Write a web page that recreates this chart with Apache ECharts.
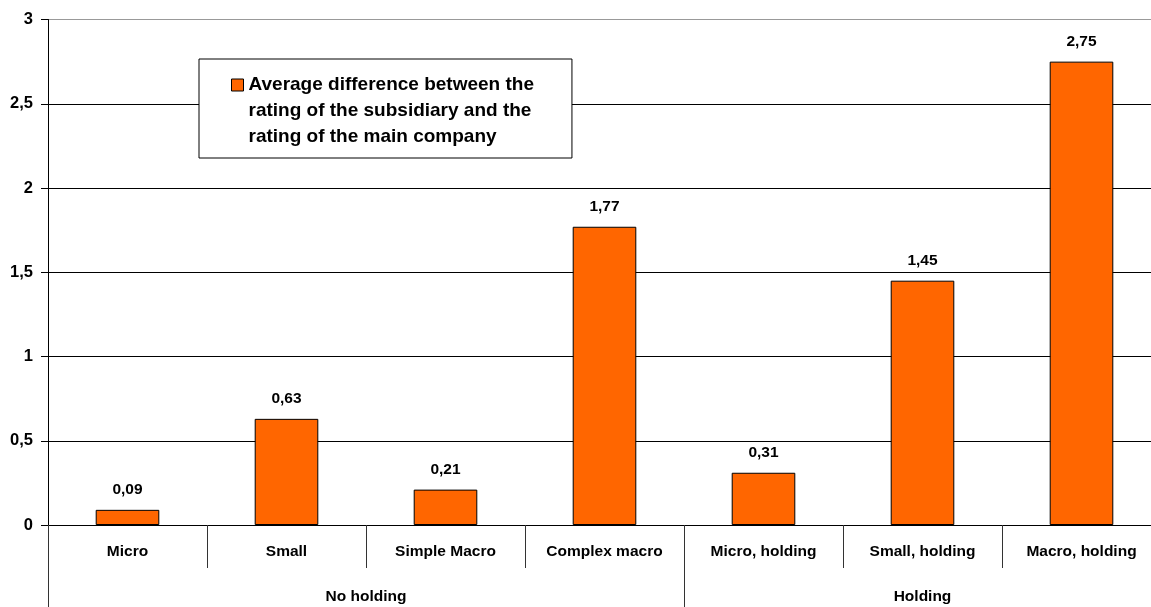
<!DOCTYPE html>
<html>
<head>
<meta charset="utf-8">
<script src="https://cdn.jsdelivr.net/npm/echarts@6/dist/echarts.min.js"></script>
<style>
  html, body { margin: 0; padding: 0; background: #fff; }
  #chart { width: 1151px; height: 607px; }
</style>
</head>
<body>
<div id="chart"></div>
<script>
// Categories (first level) and their groups (second level)
const categories = ['Micro', 'Small', 'Simple Macro', 'Complex macro', 'Micro, holding', 'Small, holding', 'Macro, holding'];
const groups = [
  { name: 'No holding', start: 0, end: 4 },
  { name: 'Holding', start: 4, end: 7 }
];
const seriesName = 'Average difference between the\nrating of the subsidiary and the\nrating of the main company';
const values = [0.09, 0.63, 0.21, 1.77, 0.31, 1.45, 2.75];
const yTicks = [0, 0.5, 1, 1.5, 2, 2.5, 3];

const FONT = '"Liberation Sans", Arial, sans-serif';
const comma = v => String(v).replace('.', ',');

// Boundaries between first-level categories (inner dividers) and group dividers
const groupEdges = [0].concat(groups.map(g => g.end)).filter(e => e < categories.length);
const innerEdges = [];
for (let i = 1; i < categories.length; i++) {
  if (groupEdges.indexOf(i) < 0) innerEdges.push(i);
}
const groupCenters = groups.map(g => (g.start + g.end) / 2);

// Legend marker: a square at the top of a tall box so it sits beside the first text line
const legendIcon = 'path://M0,0L12,0L12,12L0,12Z M0,64';

const chart = echarts.init(document.getElementById('chart'), null, { renderer: 'canvas' });

chart.setOption({
  animation: false,
  backgroundColor: '#fff',
  textStyle: { fontFamily: FONT },
  // the plot area runs slightly past the right edge of the canvas
  grid: { left: 48, width: 1113, top: 19.5, bottom: 82, containLabel: false, outerBoundsMode: 'none' },
  legend: {
    data: [{ name: seriesName, icon: legendIcon }],
    left: 199,
    top: 59,
    orient: 'vertical',
    padding: [13, 38, 8, 32],
    borderColor: '#000',
    borderWidth: 1,
    backgroundColor: '#fff',
    itemWidth: 12,
    itemHeight: 64,
    itemGap: 8,
    itemStyle: { color: '#FF6600', borderColor: '#000', borderWidth: 1 },
    textStyle: {
      fontFamily: FONT, fontWeight: 'bold', fontSize: 19, color: '#000',
      lineHeight: 26
    }
  },
  xAxis: [
    {
      type: 'category', data: categories,
      axisLine: { show: true, lineStyle: { color: '#000', width: 1 } },
      axisTick: { show: false },
      axisLabel: { interval: 0, margin: 19, color: '#000', fontFamily: FONT, fontWeight: 'bold', fontSize: 15.5 },
      splitLine: { show: false }
    },
    {
      // group dividers reaching to the bottom edge, with group names
      type: 'value', min: 0, max: categories.length, position: 'bottom',
      axisLine: { show: false },
      axisTick: { show: true, customValues: groupEdges, length: 82, inside: false, lineStyle: { color: '#333', width: 1 } },
      axisLabel: {
        show: true, customValues: groupCenters, margin: 64, color: '#000',
        fontFamily: FONT, fontWeight: 'bold', fontSize: 15.5,
        formatter: v => { const g = groups.find(gr => (gr.start + gr.end) / 2 === v); return g ? g.name : ''; }
      },
      splitLine: { show: false }
    },
    {
      // dividers between first-level categories
      type: 'value', min: 0, max: categories.length, position: 'bottom',
      axisLine: { show: false },
      axisTick: { show: true, customValues: innerEdges, length: 43, inside: false, lineStyle: { color: '#333', width: 1 } },
      axisLabel: { show: false },
      splitLine: { show: false }
    }
  ],
  yAxis: {
    type: 'value', min: yTicks[0], max: yTicks[yTicks.length - 1], interval: yTicks[1] - yTicks[0],
    axisLine: { show: true, lineStyle: { color: '#000', width: 1 } },
    axisTick: { show: true, length: 7, lineStyle: { color: '#000' } },
    axisLabel: { margin: 15, color: '#000', fontFamily: FONT, fontWeight: 'bold', fontSize: 16.5, formatter: v => comma(v) },
    splitLine: { show: true, lineStyle: { color: ['#000', '#000', '#000', '#000', '#000', '#000', '#999'], width: 1 } }
  },
  series: [
    {
      name: seriesName,
      type: 'bar',
      xAxisIndex: 0, yAxisIndex: 0,
      data: values,
      barCategoryGap: '60%',
      itemStyle: { color: '#FF6600', borderColor: '#000', borderWidth: 1 },
      label: {
        show: true, position: 'top', distance: 12, color: '#000',
        fontFamily: FONT, fontWeight: 'bold', fontSize: 15.5,
        formatter: p => comma(p.value)
      },
      z: 3
    }
  ]
});
</script>
</body>
</html>
